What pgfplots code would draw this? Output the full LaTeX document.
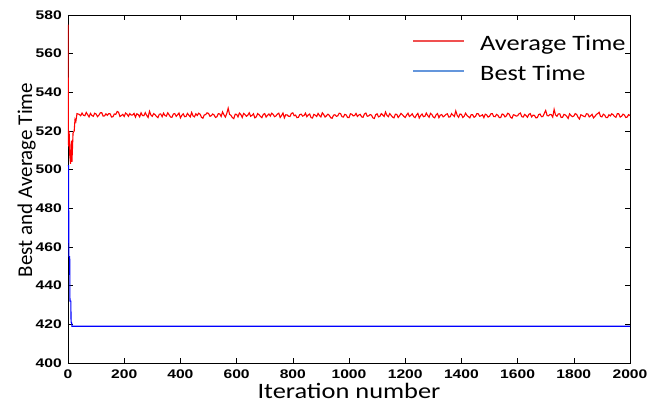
\documentclass[border=0pt]{standalone}
\usepackage{fontspec}
\setmainfont{Carlito}
\newfontfamily\tickfont[FakeStretch=1.25]{Liberation Sans}
\newfontfamily\wfont[FakeStretch=1.2]{Carlito}
\usepackage{pgfplots}
\pgfplotsset{compat=1.18}
\definecolor{legred}{RGB}{240,80,80}
\definecolor{legblue}{RGB}{100,150,220}
\begin{document}
\begin{tikzpicture}
\begin{axis}[
  width=562pt, height=348pt, scale only axis,
  xmin=0, xmax=2000, ymin=400, ymax=580,
  xtick={0,200,...,2000}, ytick={400,420,...,580},
  tick align=inside, major tick length=5pt,
  tick style={black, line width=0.6pt},
  axis line style={line width=0.9pt},
  /pgf/number format/assume math mode=true,
  /pgf/number format/1000 sep={},
  ticklabel style={font=\tickfont\fontsize{12.5}{12.5}\bfseries},
  xticklabel style={inner sep=0pt, anchor=base, yshift=-16pt},
  yticklabel style={inner sep=0pt, xshift=-6pt},
  xlabel={Iteration number},
  ylabel={Best and Average Time},
  xlabel style={font=\wfont\fontsize{22}{22}\selectfont, inner sep=0pt,
    at={(axis description cs:0.5,-0.1034)}, anchor=base},
  ylabel style={font=\fontsize{21}{21}\selectfont, inner sep=0pt,
    at={(axis description cs:-0.064,0.526)}, anchor=base},
  legend style={at={(axis description cs:0.612,0.943)}, anchor=north west, draw=none, fill=none,
    inner sep=0pt, row sep=14pt, column sep=15pt, font=\wfont\fontsize{22}{22}\selectfont,
    nodes={inner sep=0pt}},
  legend cell align=left,
]
\addplot[red, line width=1.1pt,
  legend image code/.code={\draw[draw=legred, line width=2pt] (0pt,2.5pt) -- (51pt,2.5pt);}] coordinates {
(0,575)(0.5,560)(1,531)(2,512)(4,520)(6,508)(9,503)(12,515)(14,504)(18,519)(22,520)(25,526)(28,525)(32,529)
(40,528.6)(45,527.9)(50,529.3)(55,528.1)(60,527.9)(65,529.6)(70,528.4)(75,527.3)(80,529.1)(85,528.0)(90,527.6)(95,529.2)(100,528.8)(105,527.4)(110,528.2)(115,529.4)(120,529.5)(125,527.7)(130,527.8)(135,528.9)
(140,528.1)(145,529.0)(150,528.9)(155,527.2)(160,527.4)(165,528.8)(170,528.6)(175,530.1)(180,529.7)(185,527.5)(190,528.0)(195,528.6)(200,527.5)(205,529.3)(210,528.7)(215,527.6)(220,529.0)(225,528.2)(230,528.3)(235,529.1)
(240,527.2)(245,528.9)(250,528.5)(255,527.3)(260,529.4)(265,528.0)(270,527.9)(275,529.5)(280,528.1)(285,527.0)(290,530.2)(295,528.3)(300,527.6)(305,529.0)(310,528.4)(315,527.5)(320,526.9)(325,528.7)(330,528.8)(335,527.4)
(340,529.2)(345,528.0)(350,527.7)(355,529.4)(360,528.3)(365,527.2)(370,527.1)(375,528.8)(380,529.0)(385,527.6)(390,528.4)(395,529.3)(400,526.8)(405,528.1)(410,528.9)(415,527.4)(420,527.5)(425,529.1)(430,528.2)(435,527.3)
(440,529.6)(445,527.8)(450,527.3)(455,528.9)(460,528.0)(465,529.2)(470,528.7)(475,527.1)(480,526.6)(485,528.3)(490,528.5)(495,529.4)(500,529.1)(505,527.6)(510,527.9)(515,528.8)(520,528.3)(525,527.0)(530,527.4)(535,529.0)
(540,528.8)(545,527.5)(550,529.9)(555,528.4)(560,527.2)(565,529.0)(570,531.8)(575,528.6)(580,528.1)(585,526.9)(590,526.4)(595,528.7)(600,528.6)(605,527.3)(610,529.3)(615,528.5)(620,527.0)(625,529.1)(630,528.5)(635,527.6)
(640,528.2)(645,529.4)(650,527.6)(655,528.1)(660,528.9)(665,526.8)(670,527.3)(675,529.0)(680,528.4)(685,527.5)(690,526.9)(695,528.6)(700,529.0)(705,527.2)(710,528.1)(715,528.8)(720,527.7)(725,529.2)(730,528.6)(735,527.4)
(740,527.8)(745,528.7)(750,529.2)(755,527.0)(760,528.0)(765,529.3)(770,526.8)(775,528.4)(780,528.3)(785,527.6)(790,527.5)(795,529.1)(800,529.4)(805,527.9)(810,528.2)(815,526.9)(820,527.1)(825,528.5)(830,528.7)(835,527.7)
(840,528.0)(845,529.2)(850,527.4)(855,528.3)(860,528.8)(865,526.9)(870,526.7)(875,528.6)(880,528.2)(885,527.5)(890,529.1)(895,528.0)(900,527.3)(905,529.4)(910,528.5)(915,527.2)(920,527.9)(925,528.7)(930,528.1)(935,526.8)
(940,526.6)(945,528.2)(950,528.4)(955,527.6)(960,527.8)(965,529.2)(970,529.0)(975,527.4)(980,527.2)(985,528.6)(990,528.3)(995,527.0)(1000,526.9)(1005,528.9)(1010,528.7)(1015,527.8)(1020,528.0)(1025,529.1)(1030,527.5)(1035,528.3)
(1040,528.6)(1045,527.3)(1050,527.1)(1055,528.8)(1060,529.3)(1065,527.6)(1070,527.8)(1075,528.5)(1080,528.2)(1085,526.8)(1090,526.5)(1095,528.4)(1100,528.9)(1105,527.3)(1110,527.6)(1115,529.0)(1120,528.3)(1125,527.5)(1130,529.8)(1135,528.1)
(1140,527.4)(1145,529.0)(1150,528.1)(1155,527.2)(1160,526.8)(1165,528.7)(1170,528.6)(1175,527.0)(1180,527.9)(1185,529.1)(1190,528.4)(1195,527.6)(1200,527.0)(1205,528.3)(1210,529.2)(1215,527.5)(1220,528.1)(1225,528.9)(1230,527.5)(1235,526.9)
(1240,528.3)(1245,529.1)(1250,526.7)(1255,528.0)(1260,528.8)(1265,527.4)(1270,527.6)(1275,529.3)(1280,528.0)(1285,527.1)(1290,529.1)(1295,528.5)(1300,527.2)(1305,526.8)(1310,528.4)(1315,529.0)(1320,526.9)(1325,528.2)(1330,528.5)(1335,527.3)
(1340,527.8)(1345,528.6)(1350,528.9)(1355,527.2)(1360,527.3)(1365,529.0)(1370,528.2)(1375,527.5)(1380,530.4)(1385,528.1)(1390,527.1)(1395,528.8)(1400,528.6)(1405,527.0)(1410,527.7)(1415,529.2)(1420,528.0)(1425,527.4)(1430,526.8)(1435,528.5)
(1440,528.4)(1445,527.1)(1450,527.5)(1455,529.0)(1460,528.9)(1465,527.6)(1470,527.9)(1475,528.4)(1480,526.9)(1485,528.7)(1490,528.3)(1495,527.2)(1500,527.6)(1505,528.9)(1510,529.0)(1515,527.5)(1520,527.4)(1525,528.6)(1530,528.1)(1535,526.9)
(1540,527.0)(1545,528.8)(1550,528.5)(1555,527.3)(1560,527.8)(1565,529.2)(1570,528.7)(1575,527.1)(1580,526.6)(1585,528.4)(1590,528.2)(1595,527.7)(1600,527.9)(1605,528.9)(1610,529.3)(1615,527.4)(1620,527.2)(1625,528.6)(1630,528.0)(1635,527.1)
(1640,528.6)(1645,529.0)(1650,527.3)(1655,528.2)(1660,528.1)(1665,526.8)(1670,526.9)(1675,528.5)(1680,528.8)(1685,527.4)(1690,527.5)(1695,529.1)(1700,530.6)(1705,528.0)(1710,527.8)(1715,528.6)(1720,528.4)(1725,527.2)(1730,531.2)(1735,528.3)
(1740,527.6)(1745,528.8)(1750,528.9)(1755,527.0)(1760,527.1)(1765,528.6)(1770,528.3)(1775,527.5)(1780,526.5)(1785,528.9)(1790,528.0)(1795,527.4)(1800,527.7)(1805,529.0)(1810,528.6)(1815,527.1)(1820,526.2)(1825,528.4)(1830,528.1)(1835,527.6)
(1840,527.4)(1845,528.9)(1850,528.8)(1855,527.3)(1860,527.9)(1865,528.6)(1870,526.8)(1875,527.5)(1880,528.5)(1885,529.0)(1890,529.7)(1895,527.6)(1900,527.3)(1905,528.7)(1910,528.2)(1915,526.9)(1920,526.9)(1925,528.4)(1930,527.8)(1935,528.9)
(1940,528.4)(1945,527.5)(1950,527.1)(1955,529.0)(1960,528.9)(1965,527.2)(1970,527.6)(1975,528.7)(1980,528.3)(1985,527.0)(1990,527.2)(1995,528.5)(2000,528.0)
};
\addlegendentry{Average Time}
\addplot[blue, line width=1.1pt,
  legend image code/.code={\draw[draw=legblue, line width=2pt] (0pt,2.5pt) -- (51pt,2.5pt);}] coordinates {
(0,502)(2,502)(3,455)(6,455)(7,432)(10,432)(11,421)(13,421)(14,419)(2000,419)
};
\addlegendentry{Best Time}
\end{axis}
\pgfresetboundingbox
\path[use as bounding box] (-68pt,-44pt) rectangle (586pt,363pt);
\end{tikzpicture}
\end{document}
